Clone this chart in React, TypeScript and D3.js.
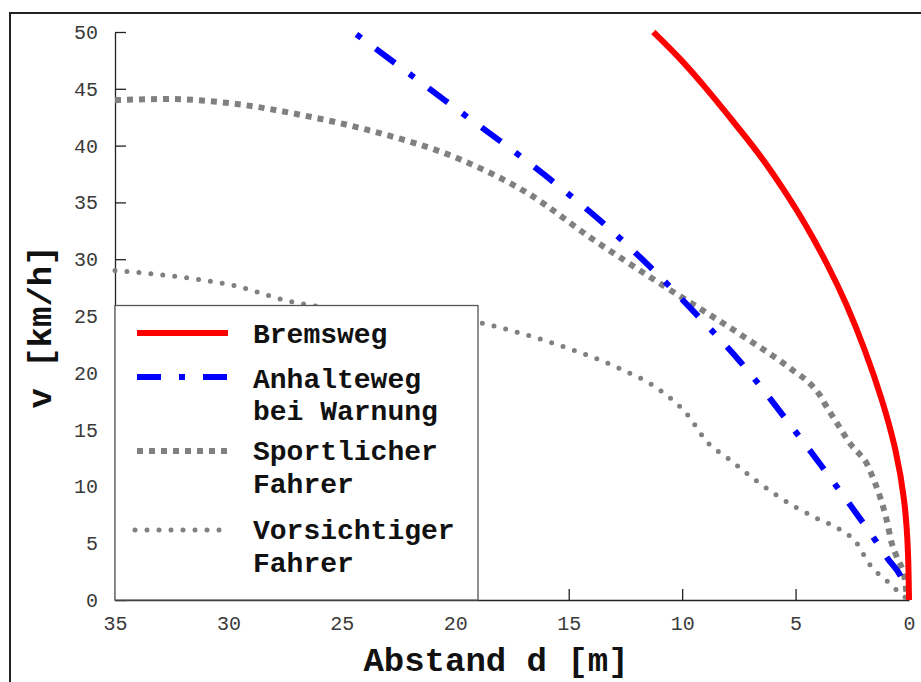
import { useEffect, useRef } from "react";
import * as d3 from "d3";

// distance d [m], speed v [km/h]
const bremsweg: [number, number][] = [
  [11.27, 50], [10.09, 47.7], [8.92, 45.0], [7.74, 42.1], [6.57, 39.2],
  [5.54, 36.2], [4.53, 33.0], [3.58, 29.5], [2.78, 26.2], [1.93, 22.0],
  [1.17, 17.6], [0.56, 13.2], [0.18, 8.8], [0.03, 4.4], [0, 0],
];

const anhalteweg: [number, number][] = [
  [24.5, 50], [20.4, 43.9], [15.8, 37.0], [13.5, 33.2], [11.4, 29.3],
  [9.35, 25.1], [7.45, 21.0], [4.92, 14.6], [3.78, 11.6], [3.19, 10.0],
  [1.5, 5.3], [0.96, 3.7], [0.32, 1.9], [0.1, 0.8],
];

const sportlich: [number, number][] = [
  [35, 44.0], [32.7, 44.1], [29.8, 43.7], [26.8, 42.7], [23.9, 41.4],
  [19.8, 38.8], [16.8, 35.8], [13.9, 31.7], [11.0, 27.9], [7.3, 23.2],
  [5.1, 20.2], [4.29, 18.9], [3.92, 18.0], [3.63, 17.0], [3.12, 15.4],
  [2.53, 13.6], [2.16, 12.8], [1.86, 12.0], [1.64, 11.0], [1.28, 9.1],
  [0.98, 7.0], [0.76, 5.0], [0.54, 3.8], [0.18, 1.8], [0.1, 0.4],
];

const vorsichtig: [number, number][] = [
  [35, 29.0], [32.4, 28.5], [29.8, 27.7], [27.3, 26.3], [26.8, 26.1],
  [18.9, 24.4], [16.8, 23.3], [14.8, 22.0], [12.9, 20.5], [11.0, 18.5],
  [9.8, 16.4], [8.85, 13.8], [8.0, 12.5], [6.8, 10.6], [5.02, 8.2],
  [4.07, 7.2], [3.12, 6.3], [2.3, 5.0], [1.76, 3.2], [1.4, 2.4],
  [0.98, 1.7], [0.62, 1.0], [0.25, 0.4], [0.1, 0.1],
];

const xTicks = [35, 30, 25, 20, 15, 10, 5, 0];
const yTicks = [0, 5, 10, 15, 20, 25, 30, 35, 40, 45, 50];

const legendItems = [
  { lines: ["Bremsweg"], key: "brems" },
  { lines: ["Anhalteweg", "bei Warnung"], key: "anhalte" },
  { lines: ["Sportlicher", "Fahrer"], key: "sport" },
  { lines: ["Vorsichtiger", "Fahrer"], key: "vorsicht" },
];

const mono = "'Liberation Mono', 'Courier New', monospace";

const styles: Record<string, { color: string; width: number; dash: string; cap: string; offset?: number }> = {
  brems: { color: "#ff0000", width: 6, dash: "none", cap: "butt" },
  anhalte: { color: "#0000ff", width: 6, dash: "24 18 6 18", cap: "butt", offset: 38 },
  sport: { color: "#808080", width: 6, dash: "6 6", cap: "butt" },
  vorsicht: { color: "#808080", width: 5, dash: "0 12", cap: "round" },
};

function App() {
  const svgRef = useRef<SVGSVGElement>(null);

  useEffect(() => {
    if (!svgRef.current) return;
    const svg = d3.select(svgRef.current);
    svg.selectAll("*").remove();

    const x = d3.scaleLinear().domain([35, 0]).range([115, 909]);
    const y = d3.scaleLinear().domain([0, 50]).range([600, 32]);

    // outer frame
    svg
      .append("rect")
      .attr("x", 10)
      .attr("y", 13)
      .attr("width", 940)
      .attr("height", 720)
      .attr("fill", "none")
      .attr("stroke", "#222")
      .attr("stroke-width", 2);

    // axes
    const xAxis = svg
      .append("g")
      .attr("transform", `translate(0,${y(0)})`)
      .call(d3.axisBottom(x).tickValues(xTicks).tickSize(-11).tickSizeOuter(0).tickPadding(16));
    const yAxis = svg
      .append("g")
      .attr("transform", `translate(${x(35)},0)`)
      .call(d3.axisLeft(y).tickValues(yTicks).tickSize(-11).tickSizeOuter(0).tickPadding(17));

    [xAxis, yAxis].forEach((g) => {
      g.selectAll("path, line").attr("stroke", "#222").attr("stroke-width", 1.3);
      g.selectAll("text")
        .attr("font-family", mono)
        .attr("font-size", 20)
        .attr("fill", "#3a3a3a");
    });

    const line = d3
      .line<[number, number]>()
      .x((d) => x(d[0]))
      .y((d) => y(d[1]));

    const series: [string, [number, number][], d3.CurveFactory][] = [
      ["vorsicht", vorsichtig, d3.curveMonotoneX],
      ["sport", sportlich, d3.curveMonotoneX],
      ["anhalte", anhalteweg, d3.curveMonotoneX],
      ["brems", bremsweg, d3.curveBasis],
    ];

    series.forEach(([key, data, curve]) => {
      const s = styles[key];
      svg
        .append("path")
        .datum(data)
        .attr("fill", "none")
        .attr("stroke", s.color)
        .attr("stroke-width", s.width)
        .attr("stroke-dasharray", s.dash)
        .attr("stroke-dashoffset", s.offset ?? 0)
        .attr("stroke-linecap", s.cap)
        .attr("d", line.curve(curve));
    });

    // legend
    const legend = svg.append("g");
    legend
      .append("rect")
      .attr("x", x(35))
      .attr("y", 305.5)
      .attr("width", 478 - x(35))
      .attr("height", y(0) - 305.5)
      .attr("fill", "white")
      .attr("stroke", "#555")
      .attr("stroke-width", 1.3);

    const sampleY = [333, 377, 451, 530];
    const textY = [[343], [388, 420], [460, 493], [539, 572]];

    legendItems.forEach((item, i) => {
      const s = styles[item.key];
      const x0 = item.key === "vorsicht" ? 135 : 137;
      legend
        .append("line")
        .attr("x1", x0)
        .attr("x2", x0 + 91)
        .attr("y1", sampleY[i])
        .attr("y2", sampleY[i])
        .attr("stroke", s.color)
        .attr("stroke-width", s.width)
        .attr("stroke-dasharray", s.dash)
        .attr("stroke-linecap", s.cap);
      item.lines.forEach((t, j) => {
        legend
          .append("text")
          .attr("x", 253)
          .attr("y", textY[i][j])
          .attr("font-family", mono)
          .attr("font-weight", "bold")
          .attr("font-size", 28)
          .attr("fill", "#111")
          .text(t);
      });
    });

    // axis titles
    svg
      .append("text")
      .attr("x", 496)
      .attr("y", 671)
      .attr("text-anchor", "middle")
      .attr("font-family", mono)
      .attr("font-weight", "bold")
      .attr("font-size", 34)
      .attr("fill", "#111")
      .text("Abstand d [m]");

    svg
      .append("text")
      .attr("transform", `translate(51,327) rotate(-90)`)
      .attr("text-anchor", "middle")
      .attr("font-family", mono)
      .attr("font-weight", "bold")
      .attr("font-size", 34)
      .attr("fill", "#111")
      .text("v [km/h]");
  }, []);

  return (
    <div style={{ position: "absolute", left: 0, top: 0 }}>
      <svg ref={svgRef} width={921} height={682} style={{ display: "block", background: "white" }}></svg>
    </div>
  );
}

export default App;
